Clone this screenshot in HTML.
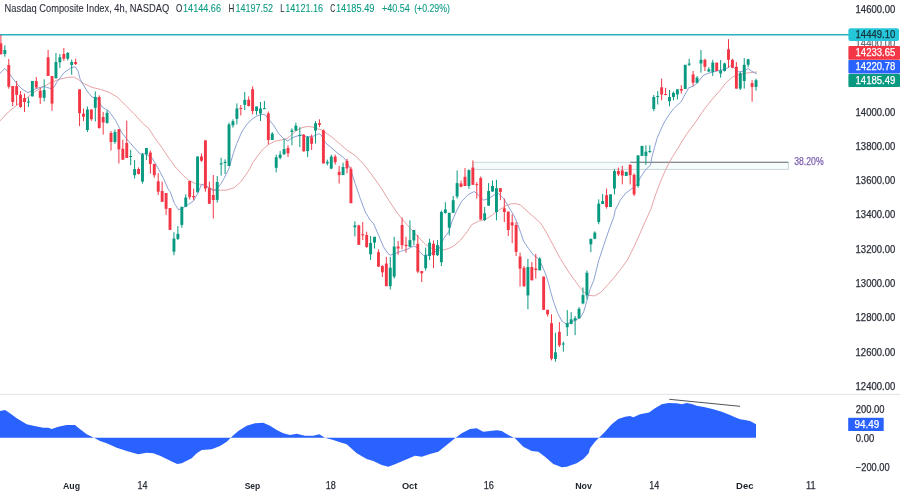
<!DOCTYPE html>
<html><head><meta charset="utf-8"><title>Nasdaq Composite Index chart</title>
<style>
html,body{margin:0;padding:0;background:#ffffff;}
body{width:900px;height:496px;overflow:hidden;position:relative;font-family:"Liberation Sans",sans-serif;}
svg text{font-family:"Liberation Sans",sans-serif;}
svg{will-change:transform;}
</style></head><body>
<svg width="900" height="496" viewBox="0 0 900 496" style="position:absolute;left:0;top:0">
<rect x="473.3" y="162.3" width="315.1" height="7.1" fill="#f6fbfc" stroke="#c3d3d6" stroke-width="0.9"/>
<line x1="630.3" y1="162.2" x2="788.4" y2="162.2" stroke="#6d7079" stroke-width="1.1"/>
<line x1="0" y1="34.8" x2="849" y2="34.8" stroke="#29b0c1" stroke-width="1.4"/>
<line x1="0" y1="394.4" x2="900" y2="394.4" stroke="#e0e3eb" stroke-width="1"/>
<polyline points="0.0,120.9 8.4,112.0 16.7,105.3 25.0,99.4 33.5,92.5 41.9,87.5 50.0,83.0 58.6,79.5 67.0,77.5 73.7,77.0 78.7,79.7 83.7,83.5 92.0,87.4 100.5,89.4 108.8,92.2 117.2,97.0 125.6,105.3 134.0,113.7 142.3,122.9 148.6,128.4 155.2,138.4 161.9,147.6 168.6,157.7 175.3,166.9 182.0,174.4 188.7,180.3 195.4,183.6 202.1,184.5 207.1,187.0 213.8,189.5 220.5,190.3 227.2,190.0 233.9,187.8 240.6,182.0 245.6,175.2 250.0,168.6 252.6,163.0 256.8,157.0 261.9,150.3 268.6,144.5 275.2,141.1 281.9,139.9 287.0,138.6 292.0,134.4 297.0,130.2 302.0,127.7 307.1,126.5 312.1,126.9 317.1,128.6 322.1,130.2 327.1,133.6 333.8,138.6 340.5,144.5 347.2,150.3 355.2,155.5 363.6,164.2 372.0,175.1 380.4,186.8 388.7,200.2 397.1,212.8 403.8,221.2 410.5,228.5 418.7,237.6 425.4,244.3 432.1,248.5 438.8,250.2 443.8,249.8 448.8,248.5 453.8,246.0 460.5,240.1 467.2,231.7 471.9,224.5 478.6,221.2 485.2,219.5 491.9,215.3 498.6,210.3 505.3,206.1 510.4,203.9 515.4,203.6 520.4,204.9 527.1,211.1 533.8,217.0 540.5,222.8 546.9,233.4 553.6,246.0 560.3,258.6 568.7,272.0 577.1,283.7 583.7,292.0 588.7,295.4 594.6,295.9 600.5,292.6 607.2,285.5 613.9,277.8 620.6,269.4 627.3,260.2 634.0,246.8 640.0,233.4 644.5,223.0 650.4,210.3 655.4,195.2 660.4,181.9 665.4,170.1 670.5,160.1 677.2,149.5 683.8,138.5 686.7,134.0 695.6,122.0 704.4,109.1 713.3,98.0 720.4,90.0 725.5,83.3 731.8,77.4 736.4,75.2 745.8,73.2 752.0,72.4 756.9,72.0" fill="none" stroke="#e3989b" stroke-width="0.9" stroke-linejoin="round"/>
<polyline points="0.0,73.3 5.0,68.4 10.0,74.7 16.7,83.5 22.0,89.0 28.0,92.7 36.0,88.6 43.5,86.5 46.7,87.3 52.0,89.0 54.0,87.0 57.5,81.2 64.0,72.7 70.7,68.0 75.3,66.7 78.0,71.0 80.2,79.3 87.0,91.0 92.0,97.0 97.0,98.0 102.0,107.0 108.8,111.0 115.5,120.4 122.0,133.0 127.6,140.0 133.5,146.8 140.2,154.0 145.2,153.8 151.9,157.7 157.8,167.7 163.6,178.6 168.6,190.0 170.2,191.7 174.4,203.4 178.6,209.8 183.6,207.6 188.6,204.3 193.6,200.9 198.6,191.7 201.2,185.0 203.7,184.2 208.7,187.5 213.7,190.9 217.0,189.0 221.2,183.3 223.9,178.6 228.9,168.6 233.6,152.5 236.7,143.6 241.8,131.9 246.8,124.4 251.8,119.3 256.8,116.0 261.9,114.3 265.2,114.8 268.6,119.3 273.6,125.2 278.6,133.6 283.6,138.6 287.8,141.1 292.0,137.8 297.0,136.1 302.0,134.9 307.1,136.9 313.8,136.1 318.8,133.6 321.3,135.2 325.5,142.8 330.5,147.0 337.2,152.8 343.9,157.9 346.0,160.4 350.2,168.4 355.2,183.5 360.3,198.6 365.3,212.0 370.3,220.3 373.5,223.4 378.5,235.1 383.5,246.8 387.7,253.2 390.2,255.2 395.2,253.5 400.3,251.5 407.0,249.3 413.7,246.0 417.0,247.6 420.4,252.7 423.7,255.5 428.7,254.8 433.8,252.7 438.8,249.3 443.8,238.4 448.8,231.7 451.8,222.0 456.8,210.3 461.8,201.1 468.5,194.4 474.4,191.5 478.6,195.2 483.6,200.2 488.6,198.6 493.6,195.2 498.6,193.5 503.7,198.6 508.7,206.9 513.7,215.3 516.8,221.7 521.0,233.4 523.5,241.0 528.5,248.5 533.5,255.2 538.6,258.9 541.9,265.2 546.1,275.3 548.6,283.7 550.2,290.0 553.6,301.8 557.8,313.5 561.9,321.0 566.1,323.9 570.3,322.7 575.3,320.2 580.4,317.7 583.7,311.8 587.1,300.1 590.4,288.4 593.8,280.3 598.8,260.2 603.8,245.2 608.9,230.1 613.9,216.7 615.2,210.3 620.2,200.3 625.2,193.6 631.9,188.6 637.0,184.4 640.3,177.7 645.3,170.1 650.4,165.1 652.0,156.7 654.5,147.5 657.0,138.6 660.0,131.3 664.4,122.0 668.9,114.9 673.3,109.1 677.8,104.7 681.3,101.6 684.0,96.2 687.6,90.0 688.6,87.8 693.6,86.1 698.6,81.1 703.6,75.2 708.6,73.2 713.7,71.9 720.4,70.2 725.4,69.3 730.4,66.0 733.8,67.7 738.8,71.9 743.8,71.0 748.0,68.5 751.3,71.0 756.9,74.0" fill="none" stroke="#8096cf" stroke-width="0.9" stroke-linejoin="round"/>
<line x1="0.90" y1="35.0" x2="0.90" y2="54.3" stroke="#f23645" stroke-width="1"/>
<rect x="-0.55" y="43.3" width="2.9" height="11.0" fill="#f23645"/>
<line x1="4.83" y1="45.3" x2="4.83" y2="56.7" stroke="#089981" stroke-width="1"/>
<rect x="3.38" y="50.0" width="2.9" height="4.0" fill="#089981"/>
<line x1="8.77" y1="59.0" x2="8.77" y2="88.7" stroke="#f23645" stroke-width="1"/>
<rect x="7.32" y="65.0" width="2.9" height="21.7" fill="#f23645"/>
<line x1="12.70" y1="86.0" x2="12.70" y2="106.0" stroke="#f23645" stroke-width="1"/>
<rect x="11.25" y="86.0" width="2.9" height="16.0" fill="#f23645"/>
<line x1="16.63" y1="81.0" x2="16.63" y2="105.3" stroke="#f23645" stroke-width="1"/>
<rect x="15.18" y="86.0" width="2.9" height="8.8" fill="#f23645"/>
<line x1="20.56" y1="91.0" x2="20.56" y2="107.8" stroke="#f23645" stroke-width="1"/>
<rect x="19.11" y="94.8" width="2.9" height="12.2" fill="#f23645"/>
<line x1="24.50" y1="93.6" x2="24.50" y2="112.0" stroke="#f23645" stroke-width="1"/>
<rect x="23.05" y="98.0" width="2.9" height="4.0" fill="#f23645"/>
<line x1="28.43" y1="97.4" x2="28.43" y2="107.0" stroke="#089981" stroke-width="1"/>
<rect x="26.98" y="101.5" width="2.9" height="1.0" fill="#089981"/>
<line x1="32.36" y1="81.0" x2="32.36" y2="96.4" stroke="#089981" stroke-width="1"/>
<rect x="30.91" y="81.0" width="2.9" height="15.4" fill="#089981"/>
<line x1="36.30" y1="77.0" x2="36.30" y2="88.6" stroke="#f23645" stroke-width="1"/>
<rect x="34.85" y="81.0" width="2.9" height="6.4" fill="#f23645"/>
<line x1="40.23" y1="87.7" x2="40.23" y2="104.0" stroke="#f23645" stroke-width="1"/>
<rect x="38.78" y="90.7" width="2.9" height="7.1" fill="#f23645"/>
<line x1="44.16" y1="79.3" x2="44.16" y2="101.4" stroke="#089981" stroke-width="1"/>
<rect x="42.71" y="90.0" width="2.9" height="7.8" fill="#089981"/>
<line x1="48.10" y1="50.0" x2="48.10" y2="76.0" stroke="#f23645" stroke-width="1"/>
<rect x="46.65" y="57.3" width="2.9" height="18.7" fill="#f23645"/>
<line x1="52.03" y1="76.0" x2="52.03" y2="110.8" stroke="#f23645" stroke-width="1"/>
<rect x="50.58" y="76.0" width="2.9" height="27.6" fill="#f23645"/>
<line x1="55.96" y1="53.0" x2="55.96" y2="78.3" stroke="#089981" stroke-width="1"/>
<rect x="54.51" y="62.0" width="2.9" height="16.3" fill="#089981"/>
<line x1="59.89" y1="54.0" x2="59.89" y2="68.0" stroke="#089981" stroke-width="1"/>
<rect x="58.44" y="57.3" width="2.9" height="5.0" fill="#089981"/>
<line x1="63.83" y1="48.0" x2="63.83" y2="61.0" stroke="#f23645" stroke-width="1"/>
<rect x="62.38" y="54.0" width="2.9" height="4.7" fill="#f23645"/>
<line x1="67.76" y1="52.0" x2="67.76" y2="60.4" stroke="#089981" stroke-width="1"/>
<rect x="66.31" y="53.0" width="2.9" height="5.7" fill="#089981"/>
<line x1="71.69" y1="59.6" x2="71.69" y2="74.7" stroke="#089981" stroke-width="1"/>
<rect x="70.24" y="62.0" width="2.9" height="3.0" fill="#089981"/>
<line x1="75.63" y1="58.7" x2="75.63" y2="65.0" stroke="#f23645" stroke-width="1"/>
<rect x="74.18" y="62.0" width="2.9" height="2.0" fill="#f23645"/>
<line x1="79.56" y1="89.4" x2="79.56" y2="126.2" stroke="#f23645" stroke-width="1"/>
<rect x="78.11" y="89.4" width="2.9" height="23.8" fill="#f23645"/>
<line x1="83.49" y1="108.6" x2="83.49" y2="121.2" stroke="#f23645" stroke-width="1"/>
<rect x="82.04" y="113.7" width="2.9" height="3.0" fill="#f23645"/>
<line x1="87.43" y1="106.5" x2="87.43" y2="132.0" stroke="#089981" stroke-width="1"/>
<rect x="85.98" y="109.5" width="2.9" height="20.5" fill="#089981"/>
<line x1="91.36" y1="109.5" x2="91.36" y2="120.9" stroke="#f23645" stroke-width="1"/>
<rect x="89.91" y="109.5" width="2.9" height="9.7" fill="#f23645"/>
<line x1="95.29" y1="91.4" x2="95.29" y2="121.5" stroke="#089981" stroke-width="1"/>
<rect x="93.84" y="97.0" width="2.9" height="10.8" fill="#089981"/>
<line x1="99.22" y1="95.3" x2="99.22" y2="128.7" stroke="#f23645" stroke-width="1"/>
<rect x="97.77" y="97.0" width="2.9" height="31.0" fill="#f23645"/>
<line x1="103.16" y1="112.0" x2="103.16" y2="134.6" stroke="#f23645" stroke-width="1"/>
<rect x="101.71" y="117.0" width="2.9" height="5.5" fill="#f23645"/>
<line x1="107.09" y1="110.3" x2="107.09" y2="123.7" stroke="#089981" stroke-width="1"/>
<rect x="105.64" y="112.8" width="2.9" height="10.1" fill="#089981"/>
<line x1="111.02" y1="131.0" x2="111.02" y2="150.5" stroke="#f23645" stroke-width="1"/>
<rect x="109.57" y="133.0" width="2.9" height="9.0" fill="#f23645"/>
<line x1="114.96" y1="129.5" x2="114.96" y2="143.8" stroke="#089981" stroke-width="1"/>
<rect x="113.51" y="132.0" width="2.9" height="10.0" fill="#089981"/>
<line x1="118.89" y1="129.2" x2="118.89" y2="163.5" stroke="#f23645" stroke-width="1"/>
<rect x="117.44" y="129.2" width="2.9" height="20.1" fill="#f23645"/>
<line x1="122.82" y1="139.8" x2="122.82" y2="159.7" stroke="#f23645" stroke-width="1"/>
<rect x="121.37" y="148.8" width="2.9" height="10.9" fill="#f23645"/>
<line x1="126.76" y1="120.6" x2="126.76" y2="158.0" stroke="#f23645" stroke-width="1"/>
<rect x="125.31" y="143.0" width="2.9" height="15.0" fill="#f23645"/>
<line x1="130.69" y1="149.8" x2="130.69" y2="165.2" stroke="#089981" stroke-width="1"/>
<rect x="129.24" y="156.0" width="2.9" height="1.0" fill="#089981"/>
<line x1="134.62" y1="160.0" x2="134.62" y2="178.6" stroke="#089981" stroke-width="1"/>
<rect x="133.17" y="169.0" width="2.9" height="6.2" fill="#089981"/>
<line x1="138.56" y1="167.4" x2="138.56" y2="174.4" stroke="#f23645" stroke-width="1"/>
<rect x="137.11" y="169.0" width="2.9" height="5.0" fill="#f23645"/>
<line x1="142.49" y1="153.0" x2="142.49" y2="183.6" stroke="#089981" stroke-width="1"/>
<rect x="141.04" y="154.3" width="2.9" height="27.3" fill="#089981"/>
<line x1="146.42" y1="148.0" x2="146.42" y2="160.0" stroke="#089981" stroke-width="1"/>
<rect x="144.97" y="148.0" width="2.9" height="6.3" fill="#089981"/>
<line x1="150.35" y1="150.5" x2="150.35" y2="173.6" stroke="#f23645" stroke-width="1"/>
<rect x="148.90" y="152.6" width="2.9" height="11.3" fill="#f23645"/>
<line x1="154.29" y1="163.9" x2="154.29" y2="177.8" stroke="#f23645" stroke-width="1"/>
<rect x="152.84" y="163.9" width="2.9" height="11.3" fill="#f23645"/>
<line x1="158.22" y1="173.2" x2="158.22" y2="195.0" stroke="#f23645" stroke-width="1"/>
<rect x="156.77" y="181.3" width="2.9" height="10.4" fill="#f23645"/>
<line x1="162.15" y1="181.6" x2="162.15" y2="201.8" stroke="#f23645" stroke-width="1"/>
<rect x="160.70" y="191.0" width="2.9" height="10.8" fill="#f23645"/>
<line x1="166.09" y1="193.0" x2="166.09" y2="214.8" stroke="#f23645" stroke-width="1"/>
<rect x="164.64" y="193.0" width="2.9" height="15.8" fill="#f23645"/>
<line x1="170.02" y1="208.1" x2="170.02" y2="229.9" stroke="#f23645" stroke-width="1"/>
<rect x="168.57" y="208.1" width="2.9" height="21.8" fill="#f23645"/>
<line x1="173.95" y1="232.2" x2="173.95" y2="255.3" stroke="#089981" stroke-width="1"/>
<rect x="172.50" y="238.6" width="2.9" height="13.1" fill="#089981"/>
<line x1="177.88" y1="226.0" x2="177.88" y2="240.0" stroke="#089981" stroke-width="1"/>
<rect x="176.44" y="233.9" width="2.9" height="5.0" fill="#089981"/>
<line x1="181.82" y1="206.8" x2="181.82" y2="227.7" stroke="#089981" stroke-width="1"/>
<rect x="180.37" y="206.8" width="2.9" height="18.1" fill="#089981"/>
<line x1="185.75" y1="194.3" x2="185.75" y2="206.8" stroke="#089981" stroke-width="1"/>
<rect x="184.30" y="197.5" width="2.9" height="9.3" fill="#089981"/>
<line x1="189.68" y1="181.0" x2="189.68" y2="199.4" stroke="#f23645" stroke-width="1"/>
<rect x="188.23" y="181.0" width="2.9" height="16.2" fill="#f23645"/>
<line x1="193.62" y1="188.6" x2="193.62" y2="200.2" stroke="#f23645" stroke-width="1"/>
<rect x="192.17" y="196.0" width="2.9" height="1.3" fill="#f23645"/>
<line x1="197.55" y1="156.5" x2="197.55" y2="192.3" stroke="#089981" stroke-width="1"/>
<rect x="196.10" y="156.5" width="2.9" height="35.8" fill="#089981"/>
<line x1="201.48" y1="153.5" x2="201.48" y2="161.9" stroke="#f23645" stroke-width="1"/>
<rect x="200.03" y="156.5" width="2.9" height="4.2" fill="#f23645"/>
<line x1="205.42" y1="140.4" x2="205.42" y2="191.7" stroke="#f23645" stroke-width="1"/>
<rect x="203.97" y="140.4" width="2.9" height="48.1" fill="#f23645"/>
<line x1="209.35" y1="181.6" x2="209.35" y2="203.8" stroke="#f23645" stroke-width="1"/>
<rect x="207.90" y="188.2" width="2.9" height="15.6" fill="#f23645"/>
<line x1="213.28" y1="175.0" x2="213.28" y2="218.5" stroke="#f23645" stroke-width="1"/>
<rect x="211.83" y="195.0" width="2.9" height="5.0" fill="#f23645"/>
<line x1="217.22" y1="176.0" x2="217.22" y2="202.6" stroke="#089981" stroke-width="1"/>
<rect x="215.77" y="182.0" width="2.9" height="17.9" fill="#089981"/>
<line x1="221.15" y1="157.7" x2="221.15" y2="175.6" stroke="#089981" stroke-width="1"/>
<rect x="219.70" y="163.2" width="2.9" height="1.2" fill="#089981"/>
<line x1="225.08" y1="159.3" x2="225.08" y2="174.0" stroke="#089981" stroke-width="1"/>
<rect x="223.63" y="161.8" width="2.9" height="1.2" fill="#089981"/>
<line x1="229.01" y1="122.6" x2="229.01" y2="166.0" stroke="#089981" stroke-width="1"/>
<rect x="227.56" y="124.5" width="2.9" height="41.5" fill="#089981"/>
<line x1="232.95" y1="119.3" x2="232.95" y2="127.6" stroke="#089981" stroke-width="1"/>
<rect x="231.50" y="121.2" width="2.9" height="4.1" fill="#089981"/>
<line x1="236.88" y1="103.4" x2="236.88" y2="124.4" stroke="#089981" stroke-width="1"/>
<rect x="235.43" y="108.5" width="2.9" height="10.3" fill="#089981"/>
<line x1="240.81" y1="105.0" x2="240.81" y2="115.5" stroke="#f23645" stroke-width="1"/>
<rect x="239.36" y="108.0" width="2.9" height="1.0" fill="#f23645"/>
<line x1="244.75" y1="92.0" x2="244.75" y2="110.0" stroke="#089981" stroke-width="1"/>
<rect x="243.30" y="99.8" width="2.9" height="5.0" fill="#089981"/>
<line x1="248.68" y1="96.4" x2="248.68" y2="106.5" stroke="#f23645" stroke-width="1"/>
<rect x="247.23" y="99.8" width="2.9" height="6.2" fill="#f23645"/>
<line x1="252.61" y1="86.4" x2="252.61" y2="114.3" stroke="#f23645" stroke-width="1"/>
<rect x="251.16" y="89.2" width="2.9" height="21.8" fill="#f23645"/>
<line x1="256.54" y1="106.5" x2="256.54" y2="114.8" stroke="#089981" stroke-width="1"/>
<rect x="255.09" y="106.5" width="2.9" height="4.5" fill="#089981"/>
<line x1="260.48" y1="102.0" x2="260.48" y2="121.0" stroke="#089981" stroke-width="1"/>
<rect x="259.03" y="108.5" width="2.9" height="5.0" fill="#089981"/>
<line x1="264.41" y1="101.0" x2="264.41" y2="108.8" stroke="#089981" stroke-width="1"/>
<rect x="262.96" y="108.2" width="2.9" height="1.0" fill="#089981"/>
<line x1="268.34" y1="111.5" x2="268.34" y2="144.5" stroke="#f23645" stroke-width="1"/>
<rect x="266.89" y="113.5" width="2.9" height="26.5" fill="#f23645"/>
<line x1="272.28" y1="132.2" x2="272.28" y2="140.0" stroke="#089981" stroke-width="1"/>
<rect x="270.83" y="133.6" width="2.9" height="6.4" fill="#089981"/>
<line x1="276.21" y1="154.7" x2="276.21" y2="172.4" stroke="#089981" stroke-width="1"/>
<rect x="274.76" y="157.3" width="2.9" height="10.5" fill="#089981"/>
<line x1="280.14" y1="151.1" x2="280.14" y2="159.3" stroke="#089981" stroke-width="1"/>
<rect x="278.69" y="154.6" width="2.9" height="3.3" fill="#089981"/>
<line x1="284.08" y1="138.8" x2="284.08" y2="154.8" stroke="#089981" stroke-width="1"/>
<rect x="282.63" y="149.0" width="2.9" height="5.3" fill="#089981"/>
<line x1="288.01" y1="145.2" x2="288.01" y2="157.0" stroke="#f23645" stroke-width="1"/>
<rect x="286.56" y="148.0" width="2.9" height="5.3" fill="#f23645"/>
<line x1="291.94" y1="128.3" x2="291.94" y2="145.3" stroke="#089981" stroke-width="1"/>
<rect x="290.49" y="130.4" width="2.9" height="1.6" fill="#089981"/>
<line x1="295.87" y1="122.7" x2="295.87" y2="131.0" stroke="#089981" stroke-width="1"/>
<rect x="294.42" y="125.7" width="2.9" height="4.9" fill="#089981"/>
<line x1="299.81" y1="127.1" x2="299.81" y2="147.1" stroke="#089981" stroke-width="1"/>
<rect x="298.36" y="135.0" width="2.9" height="1.0" fill="#089981"/>
<line x1="303.74" y1="134.0" x2="303.74" y2="151.7" stroke="#f23645" stroke-width="1"/>
<rect x="302.29" y="134.8" width="2.9" height="16.5" fill="#f23645"/>
<line x1="307.67" y1="136.0" x2="307.67" y2="157.2" stroke="#089981" stroke-width="1"/>
<rect x="306.22" y="137.0" width="2.9" height="14.1" fill="#089981"/>
<line x1="311.61" y1="134.5" x2="311.61" y2="149.9" stroke="#f23645" stroke-width="1"/>
<rect x="310.16" y="137.2" width="2.9" height="6.6" fill="#f23645"/>
<line x1="315.54" y1="121.0" x2="315.54" y2="143.6" stroke="#089981" stroke-width="1"/>
<rect x="314.09" y="123.2" width="2.9" height="7.4" fill="#089981"/>
<line x1="319.47" y1="119.3" x2="319.47" y2="127.2" stroke="#f23645" stroke-width="1"/>
<rect x="318.02" y="123.2" width="2.9" height="1.7" fill="#f23645"/>
<line x1="323.41" y1="129.4" x2="323.41" y2="163.4" stroke="#f23645" stroke-width="1"/>
<rect x="321.96" y="130.3" width="2.9" height="33.1" fill="#f23645"/>
<line x1="327.34" y1="159.6" x2="327.34" y2="165.4" stroke="#089981" stroke-width="1"/>
<rect x="325.89" y="161.9" width="2.9" height="1.5" fill="#089981"/>
<line x1="331.27" y1="154.7" x2="331.27" y2="169.1" stroke="#089981" stroke-width="1"/>
<rect x="329.82" y="156.6" width="2.9" height="12.0" fill="#089981"/>
<line x1="335.20" y1="154.7" x2="335.20" y2="164.5" stroke="#f23645" stroke-width="1"/>
<rect x="333.75" y="156.6" width="2.9" height="5.6" fill="#f23645"/>
<line x1="339.14" y1="166.0" x2="339.14" y2="183.5" stroke="#f23645" stroke-width="1"/>
<rect x="337.69" y="171.8" width="2.9" height="3.3" fill="#f23645"/>
<line x1="343.07" y1="162.7" x2="343.07" y2="175.1" stroke="#089981" stroke-width="1"/>
<rect x="341.62" y="167.0" width="2.9" height="8.1" fill="#089981"/>
<line x1="347.00" y1="158.7" x2="347.00" y2="173.4" stroke="#f23645" stroke-width="1"/>
<rect x="345.55" y="160.9" width="2.9" height="7.5" fill="#f23645"/>
<line x1="350.94" y1="166.7" x2="350.94" y2="203.2" stroke="#f23645" stroke-width="1"/>
<rect x="349.49" y="168.8" width="2.9" height="34.4" fill="#f23645"/>
<line x1="354.87" y1="221.3" x2="354.87" y2="236.4" stroke="#089981" stroke-width="1"/>
<rect x="353.42" y="225.5" width="2.9" height="1.7" fill="#089981"/>
<line x1="358.80" y1="224.7" x2="358.80" y2="245.0" stroke="#f23645" stroke-width="1"/>
<rect x="357.35" y="225.4" width="2.9" height="19.4" fill="#f23645"/>
<line x1="362.74" y1="222.0" x2="362.74" y2="240.0" stroke="#f23645" stroke-width="1"/>
<rect x="361.29" y="234.3" width="2.9" height="1.1" fill="#f23645"/>
<line x1="366.67" y1="231.7" x2="366.67" y2="248.0" stroke="#f23645" stroke-width="1"/>
<rect x="365.22" y="235.0" width="2.9" height="12.0" fill="#f23645"/>
<line x1="370.60" y1="236.0" x2="370.60" y2="260.0" stroke="#089981" stroke-width="1"/>
<rect x="369.15" y="243.0" width="2.9" height="11.3" fill="#089981"/>
<line x1="374.53" y1="236.8" x2="374.53" y2="248.5" stroke="#089981" stroke-width="1"/>
<rect x="373.08" y="236.8" width="2.9" height="5.8" fill="#089981"/>
<line x1="378.47" y1="249.3" x2="378.47" y2="267.0" stroke="#f23645" stroke-width="1"/>
<rect x="377.02" y="252.2" width="2.9" height="14.4" fill="#f23645"/>
<line x1="382.40" y1="265.2" x2="382.40" y2="277.0" stroke="#f23645" stroke-width="1"/>
<rect x="380.95" y="266.0" width="2.9" height="6.3" fill="#f23645"/>
<line x1="386.33" y1="256.9" x2="386.33" y2="286.2" stroke="#f23645" stroke-width="1"/>
<rect x="384.88" y="263.6" width="2.9" height="22.6" fill="#f23645"/>
<line x1="390.27" y1="256.9" x2="390.27" y2="289.5" stroke="#089981" stroke-width="1"/>
<rect x="388.82" y="267.7" width="2.9" height="18.5" fill="#089981"/>
<line x1="394.20" y1="236.8" x2="394.20" y2="278.6" stroke="#089981" stroke-width="1"/>
<rect x="392.75" y="246.5" width="2.9" height="30.1" fill="#089981"/>
<line x1="398.13" y1="241.0" x2="398.13" y2="254.8" stroke="#f23645" stroke-width="1"/>
<rect x="396.68" y="246.5" width="2.9" height="2.0" fill="#f23645"/>
<line x1="402.07" y1="217.5" x2="402.07" y2="249.3" stroke="#f23645" stroke-width="1"/>
<rect x="400.62" y="225.0" width="2.9" height="20.1" fill="#f23645"/>
<line x1="406.00" y1="236.8" x2="406.00" y2="252.7" stroke="#f23645" stroke-width="1"/>
<rect x="404.55" y="244.8" width="2.9" height="1.2" fill="#f23645"/>
<line x1="409.93" y1="220.4" x2="409.93" y2="246.8" stroke="#089981" stroke-width="1"/>
<rect x="408.48" y="240.1" width="2.9" height="6.7" fill="#089981"/>
<line x1="413.86" y1="230.0" x2="413.86" y2="245.0" stroke="#089981" stroke-width="1"/>
<rect x="412.41" y="230.0" width="2.9" height="10.4" fill="#089981"/>
<line x1="417.80" y1="235.0" x2="417.80" y2="273.3" stroke="#f23645" stroke-width="1"/>
<rect x="416.35" y="243.8" width="2.9" height="27.8" fill="#f23645"/>
<line x1="421.73" y1="271.0" x2="421.73" y2="282.0" stroke="#f23645" stroke-width="1"/>
<rect x="420.28" y="271.0" width="2.9" height="2.3" fill="#f23645"/>
<line x1="425.66" y1="247.6" x2="425.66" y2="270.6" stroke="#089981" stroke-width="1"/>
<rect x="424.21" y="255.2" width="2.9" height="13.0" fill="#089981"/>
<line x1="429.60" y1="238.8" x2="429.60" y2="260.2" stroke="#089981" stroke-width="1"/>
<rect x="428.15" y="242.6" width="2.9" height="13.4" fill="#089981"/>
<line x1="433.53" y1="240.4" x2="433.53" y2="268.2" stroke="#f23645" stroke-width="1"/>
<rect x="432.08" y="243.8" width="2.9" height="11.4" fill="#f23645"/>
<line x1="437.46" y1="240.1" x2="437.46" y2="256.0" stroke="#089981" stroke-width="1"/>
<rect x="436.01" y="245.1" width="2.9" height="10.1" fill="#089981"/>
<line x1="441.40" y1="210.6" x2="441.40" y2="266.0" stroke="#089981" stroke-width="1"/>
<rect x="439.95" y="212.0" width="2.9" height="50.2" fill="#089981"/>
<line x1="445.33" y1="202.2" x2="445.33" y2="213.6" stroke="#089981" stroke-width="1"/>
<rect x="443.88" y="209.4" width="2.9" height="3.6" fill="#089981"/>
<line x1="449.26" y1="212.8" x2="449.26" y2="235.4" stroke="#089981" stroke-width="1"/>
<rect x="447.81" y="212.8" width="2.9" height="14.9" fill="#089981"/>
<line x1="453.19" y1="196.0" x2="453.19" y2="212.8" stroke="#089981" stroke-width="1"/>
<rect x="451.74" y="200.2" width="2.9" height="12.6" fill="#089981"/>
<line x1="457.13" y1="170.4" x2="457.13" y2="198.6" stroke="#089981" stroke-width="1"/>
<rect x="455.68" y="183.1" width="2.9" height="13.4" fill="#089981"/>
<line x1="461.06" y1="180.5" x2="461.06" y2="187.2" stroke="#f23645" stroke-width="1"/>
<rect x="459.61" y="183.5" width="2.9" height="3.3" fill="#f23645"/>
<line x1="464.99" y1="168.1" x2="464.99" y2="186.0" stroke="#f23645" stroke-width="1"/>
<rect x="463.54" y="176.8" width="2.9" height="9.2" fill="#f23645"/>
<line x1="468.93" y1="169.3" x2="468.93" y2="188.8" stroke="#089981" stroke-width="1"/>
<rect x="467.48" y="170.1" width="2.9" height="15.9" fill="#089981"/>
<line x1="472.86" y1="160.4" x2="472.86" y2="184.8" stroke="#f23645" stroke-width="1"/>
<rect x="471.41" y="167.6" width="2.9" height="17.2" fill="#f23645"/>
<line x1="476.79" y1="182.1" x2="476.79" y2="198.6" stroke="#f23645" stroke-width="1"/>
<rect x="475.34" y="184.2" width="2.9" height="1.0" fill="#f23645"/>
<line x1="480.73" y1="176.5" x2="480.73" y2="219.5" stroke="#f23645" stroke-width="1"/>
<rect x="479.28" y="178.1" width="2.9" height="41.4" fill="#f23645"/>
<line x1="484.66" y1="207.0" x2="484.66" y2="221.2" stroke="#089981" stroke-width="1"/>
<rect x="483.21" y="213.3" width="2.9" height="6.7" fill="#089981"/>
<line x1="488.59" y1="183.1" x2="488.59" y2="206.0" stroke="#089981" stroke-width="1"/>
<rect x="487.14" y="191.0" width="2.9" height="14.6" fill="#089981"/>
<line x1="492.52" y1="180.5" x2="492.52" y2="191.9" stroke="#089981" stroke-width="1"/>
<rect x="491.07" y="186.0" width="2.9" height="5.5" fill="#089981"/>
<line x1="496.46" y1="179.8" x2="496.46" y2="220.3" stroke="#089981" stroke-width="1"/>
<rect x="495.01" y="188.2" width="2.9" height="23.8" fill="#089981"/>
<line x1="500.39" y1="188.2" x2="500.39" y2="200.2" stroke="#f23645" stroke-width="1"/>
<rect x="498.94" y="188.2" width="2.9" height="3.7" fill="#f23645"/>
<line x1="504.32" y1="198.6" x2="504.32" y2="222.0" stroke="#f23645" stroke-width="1"/>
<rect x="502.87" y="208.3" width="2.9" height="3.7" fill="#f23645"/>
<line x1="508.26" y1="211.6" x2="508.26" y2="236.0" stroke="#f23645" stroke-width="1"/>
<rect x="506.81" y="211.6" width="2.9" height="18.4" fill="#f23645"/>
<line x1="512.19" y1="214.3" x2="512.19" y2="243.1" stroke="#f23645" stroke-width="1"/>
<rect x="510.74" y="222.4" width="2.9" height="3.0" fill="#f23645"/>
<line x1="516.12" y1="221.8" x2="516.12" y2="256.0" stroke="#f23645" stroke-width="1"/>
<rect x="514.67" y="225.0" width="2.9" height="26.9" fill="#f23645"/>
<line x1="520.06" y1="252.7" x2="520.06" y2="286.5" stroke="#f23645" stroke-width="1"/>
<rect x="518.61" y="256.5" width="2.9" height="12.1" fill="#f23645"/>
<line x1="523.99" y1="266.0" x2="523.99" y2="286.6" stroke="#f23645" stroke-width="1"/>
<rect x="522.54" y="267.8" width="2.9" height="18.5" fill="#f23645"/>
<line x1="527.92" y1="258.9" x2="527.92" y2="309.3" stroke="#089981" stroke-width="1"/>
<rect x="526.47" y="267.0" width="2.9" height="28.4" fill="#089981"/>
<line x1="531.85" y1="262.0" x2="531.85" y2="280.3" stroke="#f23645" stroke-width="1"/>
<rect x="530.40" y="267.0" width="2.9" height="13.3" fill="#f23645"/>
<line x1="535.79" y1="253.9" x2="535.79" y2="278.6" stroke="#f23645" stroke-width="1"/>
<rect x="534.34" y="268.6" width="2.9" height="1.4" fill="#f23645"/>
<line x1="539.72" y1="257.2" x2="539.72" y2="270.3" stroke="#089981" stroke-width="1"/>
<rect x="538.27" y="258.6" width="2.9" height="11.7" fill="#089981"/>
<line x1="543.65" y1="276.6" x2="543.65" y2="309.8" stroke="#f23645" stroke-width="1"/>
<rect x="542.20" y="276.6" width="2.9" height="33.2" fill="#f23645"/>
<line x1="547.59" y1="309.8" x2="547.59" y2="316.5" stroke="#f23645" stroke-width="1"/>
<rect x="546.14" y="309.8" width="2.9" height="4.5" fill="#f23645"/>
<line x1="551.52" y1="314.3" x2="551.52" y2="360.4" stroke="#f23645" stroke-width="1"/>
<rect x="550.07" y="323.2" width="2.9" height="35.5" fill="#f23645"/>
<line x1="555.45" y1="332.7" x2="555.45" y2="361.7" stroke="#089981" stroke-width="1"/>
<rect x="554.00" y="352.3" width="2.9" height="6.7" fill="#089981"/>
<line x1="559.39" y1="322.2" x2="559.39" y2="347.0" stroke="#f23645" stroke-width="1"/>
<rect x="557.94" y="331.9" width="2.9" height="13.4" fill="#f23645"/>
<line x1="563.32" y1="341.6" x2="563.32" y2="351.7" stroke="#089981" stroke-width="1"/>
<rect x="561.87" y="343.5" width="2.9" height="1.0" fill="#089981"/>
<line x1="567.25" y1="310.1" x2="567.25" y2="336.1" stroke="#089981" stroke-width="1"/>
<rect x="565.80" y="323.2" width="2.9" height="4.0" fill="#089981"/>
<line x1="571.18" y1="312.1" x2="571.18" y2="324.4" stroke="#089981" stroke-width="1"/>
<rect x="569.73" y="319.3" width="2.9" height="4.6" fill="#089981"/>
<line x1="575.12" y1="316.0" x2="575.12" y2="335.2" stroke="#089981" stroke-width="1"/>
<rect x="573.67" y="318.2" width="2.9" height="2.3" fill="#089981"/>
<line x1="579.05" y1="307.1" x2="579.05" y2="318.8" stroke="#089981" stroke-width="1"/>
<rect x="577.60" y="308.8" width="2.9" height="9.4" fill="#089981"/>
<line x1="582.98" y1="287.5" x2="582.98" y2="304.3" stroke="#089981" stroke-width="1"/>
<rect x="581.53" y="295.1" width="2.9" height="8.3" fill="#089981"/>
<line x1="586.92" y1="270.6" x2="586.92" y2="299.3" stroke="#089981" stroke-width="1"/>
<rect x="585.47" y="272.8" width="2.9" height="22.6" fill="#089981"/>
<line x1="590.85" y1="238.8" x2="590.85" y2="252.2" stroke="#089981" stroke-width="1"/>
<rect x="589.40" y="238.8" width="2.9" height="5.5" fill="#089981"/>
<line x1="594.78" y1="231.4" x2="594.78" y2="239.3" stroke="#089981" stroke-width="1"/>
<rect x="593.33" y="232.6" width="2.9" height="6.2" fill="#089981"/>
<line x1="598.72" y1="199.4" x2="598.72" y2="224.2" stroke="#089981" stroke-width="1"/>
<rect x="597.27" y="203.6" width="2.9" height="18.4" fill="#089981"/>
<line x1="602.65" y1="193.9" x2="602.65" y2="204.0" stroke="#089981" stroke-width="1"/>
<rect x="601.20" y="201.1" width="2.9" height="2.9" fill="#089981"/>
<line x1="606.58" y1="188.6" x2="606.58" y2="208.6" stroke="#f23645" stroke-width="1"/>
<rect x="605.13" y="195.2" width="2.9" height="11.8" fill="#f23645"/>
<line x1="610.51" y1="194.4" x2="610.51" y2="207.0" stroke="#089981" stroke-width="1"/>
<rect x="609.06" y="194.4" width="2.9" height="12.6" fill="#089981"/>
<line x1="614.45" y1="169.3" x2="614.45" y2="194.4" stroke="#089981" stroke-width="1"/>
<rect x="613.00" y="171.0" width="2.9" height="17.6" fill="#089981"/>
<line x1="618.38" y1="167.6" x2="618.38" y2="176.0" stroke="#f23645" stroke-width="1"/>
<rect x="616.93" y="171.0" width="2.9" height="3.3" fill="#f23645"/>
<line x1="622.31" y1="166.0" x2="622.31" y2="184.4" stroke="#f23645" stroke-width="1"/>
<rect x="620.86" y="170.5" width="2.9" height="5.0" fill="#f23645"/>
<line x1="626.25" y1="171.8" x2="626.25" y2="176.0" stroke="#089981" stroke-width="1"/>
<rect x="624.80" y="171.8" width="2.9" height="4.2" fill="#089981"/>
<line x1="630.18" y1="164.3" x2="630.18" y2="184.4" stroke="#f23645" stroke-width="1"/>
<rect x="628.73" y="164.8" width="2.9" height="10.4" fill="#f23645"/>
<line x1="634.11" y1="173.5" x2="634.11" y2="196.0" stroke="#f23645" stroke-width="1"/>
<rect x="632.66" y="174.8" width="2.9" height="19.6" fill="#f23645"/>
<line x1="638.05" y1="155.0" x2="638.05" y2="187.7" stroke="#089981" stroke-width="1"/>
<rect x="636.60" y="155.4" width="2.9" height="30.6" fill="#089981"/>
<line x1="641.98" y1="145.9" x2="641.98" y2="155.9" stroke="#089981" stroke-width="1"/>
<rect x="640.53" y="145.9" width="2.9" height="10.0" fill="#089981"/>
<line x1="645.91" y1="145.4" x2="645.91" y2="164.8" stroke="#089981" stroke-width="1"/>
<rect x="644.46" y="151.7" width="2.9" height="4.2" fill="#089981"/>
<line x1="649.84" y1="145.4" x2="649.84" y2="153.0" stroke="#089981" stroke-width="1"/>
<rect x="648.39" y="151.0" width="2.9" height="1.0" fill="#089981"/>
<line x1="653.78" y1="95.0" x2="653.78" y2="111.2" stroke="#089981" stroke-width="1"/>
<rect x="652.33" y="97.0" width="2.9" height="12.0" fill="#089981"/>
<line x1="657.71" y1="91.1" x2="657.71" y2="104.5" stroke="#089981" stroke-width="1"/>
<rect x="656.26" y="96.0" width="2.9" height="1.0" fill="#089981"/>
<line x1="661.64" y1="78.6" x2="661.64" y2="100.3" stroke="#f23645" stroke-width="1"/>
<rect x="660.19" y="87.3" width="2.9" height="7.2" fill="#f23645"/>
<line x1="665.58" y1="87.8" x2="665.58" y2="95.3" stroke="#f23645" stroke-width="1"/>
<rect x="664.13" y="94.0" width="2.9" height="1.0" fill="#f23645"/>
<line x1="669.51" y1="90.0" x2="669.51" y2="106.2" stroke="#089981" stroke-width="1"/>
<rect x="668.06" y="97.0" width="2.9" height="4.2" fill="#089981"/>
<line x1="673.44" y1="91.6" x2="673.44" y2="100.3" stroke="#089981" stroke-width="1"/>
<rect x="671.99" y="92.8" width="2.9" height="4.2" fill="#089981"/>
<line x1="677.38" y1="89.0" x2="677.38" y2="99.5" stroke="#089981" stroke-width="1"/>
<rect x="675.93" y="89.4" width="2.9" height="5.1" fill="#089981"/>
<line x1="681.31" y1="85.2" x2="681.31" y2="93.6" stroke="#f23645" stroke-width="1"/>
<rect x="679.86" y="89.0" width="2.9" height="1.6" fill="#f23645"/>
<line x1="685.24" y1="64.8" x2="685.24" y2="89.0" stroke="#089981" stroke-width="1"/>
<rect x="683.79" y="64.8" width="2.9" height="24.2" fill="#089981"/>
<line x1="689.17" y1="58.8" x2="689.17" y2="66.0" stroke="#089981" stroke-width="1"/>
<rect x="687.72" y="63.5" width="2.9" height="1.3" fill="#089981"/>
<line x1="693.11" y1="71.0" x2="693.11" y2="86.0" stroke="#f23645" stroke-width="1"/>
<rect x="691.66" y="74.4" width="2.9" height="8.3" fill="#f23645"/>
<line x1="697.04" y1="76.0" x2="697.04" y2="83.6" stroke="#089981" stroke-width="1"/>
<rect x="695.59" y="77.7" width="2.9" height="5.0" fill="#089981"/>
<line x1="700.97" y1="50.0" x2="700.97" y2="72.7" stroke="#089981" stroke-width="1"/>
<rect x="699.52" y="59.8" width="2.9" height="3.7" fill="#089981"/>
<line x1="704.91" y1="58.8" x2="704.91" y2="71.0" stroke="#f23645" stroke-width="1"/>
<rect x="703.46" y="59.8" width="2.9" height="7.0" fill="#f23645"/>
<line x1="708.84" y1="67.2" x2="708.84" y2="72.2" stroke="#089981" stroke-width="1"/>
<rect x="707.39" y="69.3" width="2.9" height="2.2" fill="#089981"/>
<line x1="712.77" y1="59.8" x2="712.77" y2="76.0" stroke="#089981" stroke-width="1"/>
<rect x="711.32" y="62.6" width="2.9" height="9.3" fill="#089981"/>
<line x1="716.71" y1="62.6" x2="716.71" y2="71.0" stroke="#f23645" stroke-width="1"/>
<rect x="715.26" y="62.6" width="2.9" height="8.4" fill="#f23645"/>
<line x1="720.64" y1="60.1" x2="720.64" y2="77.7" stroke="#089981" stroke-width="1"/>
<rect x="719.19" y="70.5" width="2.9" height="3.0" fill="#089981"/>
<line x1="724.57" y1="62.6" x2="724.57" y2="71.5" stroke="#089981" stroke-width="1"/>
<rect x="723.12" y="63.5" width="2.9" height="7.5" fill="#089981"/>
<line x1="728.50" y1="39.2" x2="728.50" y2="67.7" stroke="#f23645" stroke-width="1"/>
<rect x="727.05" y="49.3" width="2.9" height="10.5" fill="#f23645"/>
<line x1="732.44" y1="58.8" x2="732.44" y2="68.2" stroke="#f23645" stroke-width="1"/>
<rect x="730.99" y="59.8" width="2.9" height="7.9" fill="#f23645"/>
<line x1="736.37" y1="62.1" x2="736.37" y2="88.6" stroke="#f23645" stroke-width="1"/>
<rect x="734.92" y="66.8" width="2.9" height="21.8" fill="#f23645"/>
<line x1="740.30" y1="71.9" x2="740.30" y2="90.0" stroke="#089981" stroke-width="1"/>
<rect x="738.85" y="73.2" width="2.9" height="15.4" fill="#089981"/>
<line x1="744.24" y1="58.1" x2="744.24" y2="88.6" stroke="#089981" stroke-width="1"/>
<rect x="742.79" y="64.8" width="2.9" height="16.2" fill="#089981"/>
<line x1="748.17" y1="58.8" x2="748.17" y2="67.2" stroke="#089981" stroke-width="1"/>
<rect x="746.72" y="59.3" width="2.9" height="5.5" fill="#089981"/>
<line x1="752.10" y1="80.2" x2="752.10" y2="101.7" stroke="#f23645" stroke-width="1"/>
<rect x="750.65" y="83.2" width="2.9" height="3.7" fill="#f23645"/>
<line x1="756.04" y1="78.6" x2="756.04" y2="90.6" stroke="#089981" stroke-width="1"/>
<rect x="754.59" y="80.2" width="2.9" height="6.7" fill="#089981"/>
<polygon points="0.0,437.8 0.0,411.0 5.0,410.0 10.0,413.3 16.7,418.3 26.7,424.3 33.3,425.7 43.3,427.7 48.3,427.7 51.7,429.0 58.3,426.7 66.7,425.0 75.0,425.0 78.3,427.7 86.7,434.3 95.0,438.3 100.0,441.0 106.7,443.3 116.7,447.7 126.7,451.0 138.3,454.3 146.7,452.7 153.3,453.3 160.0,455.7 166.7,459.0 173.3,462.3 177.3,464.0 181.7,463.3 191.7,458.3 196.7,453.3 201.7,450.0 211.7,449.3 220.0,446.0 226.7,441.7 231.7,436.7 238.3,431.0 246.7,425.7 255.0,423.3 263.3,422.7 270.0,425.7 276.7,430.0 283.3,433.3 290.0,435.0 296.7,433.7 305.0,435.7 313.3,435.7 319.3,434.3 325.0,437.7 333.3,440.0 340.0,442.3 346.7,444.3 356.7,453.3 366.7,459.0 373.3,461.0 381.7,465.0 388.3,466.7 395.0,464.3 405.0,460.0 415.0,455.7 421.7,456.7 430.0,454.0 438.3,451.7 446.7,445.0 455.0,438.3 461.7,433.3 470.0,429.0 476.7,428.3 483.3,431.7 490.0,431.0 496.7,430.3 501.7,431.0 508.3,435.0 515.0,438.3 523.3,446.7 531.7,451.0 538.3,451.7 545.0,456.7 553.3,464.0 561.7,467.3 566.7,466.7 576.7,463.3 583.3,459.0 588.7,453.3 590.0,448.3 595.0,441.7 600.0,436.7 605.0,431.7 611.7,424.3 618.3,419.0 625.0,416.7 630.0,416.0 633.3,417.3 640.0,414.3 649.0,412.6 655.0,408.3 661.7,404.3 668.3,403.0 676.7,403.3 681.7,404.3 686.7,403.0 691.7,404.0 696.7,405.7 705.0,407.3 713.3,409.3 721.7,411.7 730.0,415.0 735.0,417.3 740.0,419.3 745.0,420.0 750.0,421.0 753.3,422.7 756.0,424.3 756.0,437.8" fill="#2962ff"/>
<line x1="669.3" y1="399.3" x2="740" y2="406.3" stroke="#3d4048" stroke-width="0.9"/>
<text x="895.2" y="12.799999999999999" font-size="10.2" fill="#2a2e39" stroke="#2a2e39" stroke-width="0.25" text-anchor="end" font-weight="normal" textLength="39.6" lengthAdjust="spacingAndGlyphs">14600.00</text>
<text x="895.2" y="115.6" font-size="10.2" fill="#2a2e39" stroke="#2a2e39" stroke-width="0.25" text-anchor="end" font-weight="normal" textLength="39.6" lengthAdjust="spacingAndGlyphs">14000.00</text>
<text x="895.2" y="149.9" font-size="10.2" fill="#2a2e39" stroke="#2a2e39" stroke-width="0.25" text-anchor="end" font-weight="normal" textLength="39.6" lengthAdjust="spacingAndGlyphs">13800.00</text>
<text x="895.2" y="184.2" font-size="10.2" fill="#2a2e39" stroke="#2a2e39" stroke-width="0.25" text-anchor="end" font-weight="normal" textLength="39.6" lengthAdjust="spacingAndGlyphs">13600.00</text>
<text x="895.2" y="218.4" font-size="10.2" fill="#2a2e39" stroke="#2a2e39" stroke-width="0.25" text-anchor="end" font-weight="normal" textLength="39.6" lengthAdjust="spacingAndGlyphs">13400.00</text>
<text x="895.2" y="252.7" font-size="10.2" fill="#2a2e39" stroke="#2a2e39" stroke-width="0.25" text-anchor="end" font-weight="normal" textLength="39.6" lengthAdjust="spacingAndGlyphs">13200.00</text>
<text x="895.2" y="287.0" font-size="10.2" fill="#2a2e39" stroke="#2a2e39" stroke-width="0.25" text-anchor="end" font-weight="normal" textLength="39.6" lengthAdjust="spacingAndGlyphs">13000.00</text>
<text x="895.2" y="321.20000000000005" font-size="10.2" fill="#2a2e39" stroke="#2a2e39" stroke-width="0.25" text-anchor="end" font-weight="normal" textLength="39.6" lengthAdjust="spacingAndGlyphs">12800.00</text>
<text x="895.2" y="355.5" font-size="10.2" fill="#2a2e39" stroke="#2a2e39" stroke-width="0.25" text-anchor="end" font-weight="normal" textLength="39.6" lengthAdjust="spacingAndGlyphs">12600.00</text>
<text x="895.2" y="389.8" font-size="10.2" fill="#2a2e39" stroke="#2a2e39" stroke-width="0.25" text-anchor="end" font-weight="normal" textLength="39.6" lengthAdjust="spacingAndGlyphs">12400.00</text>
<text x="895.2" y="47.0" font-size="10.2" fill="#6a6d78" stroke="#6a6d78" stroke-width="0.25" text-anchor="end" font-weight="normal" textLength="39.6" lengthAdjust="spacingAndGlyphs">14400.00</text>
<text x="855.8" y="413.1" font-size="10.2" fill="#2a2e39" stroke="#2a2e39" stroke-width="0.25" text-anchor="start" font-weight="normal" textLength="28.7" lengthAdjust="spacingAndGlyphs">200.00</text>
<text x="855.8" y="442.0" font-size="10.2" fill="#2a2e39" stroke="#2a2e39" stroke-width="0.25" text-anchor="start" font-weight="normal" textLength="18.5" lengthAdjust="spacingAndGlyphs">0.00</text>
<text x="855.8" y="470.6" font-size="10.2" fill="#2a2e39" stroke="#2a2e39" stroke-width="0.25" text-anchor="start" font-weight="normal" textLength="33.8" lengthAdjust="spacingAndGlyphs">−200.00</text>
<rect x="848.4" y="28.3" width="50.60000000000002" height="12.7" rx="2" fill="#26c6da"/><text x="895.2" y="38.25" font-size="10.2" fill="#14323a" stroke="#14323a" stroke-width="0.25" text-anchor="end" font-weight="normal" textLength="39.6" lengthAdjust="spacingAndGlyphs">14449.10</text>
<rect x="848.4" y="46" width="51.60000000000002" height="13.700000000000003" rx="1" fill="#f23645"/><text x="895.2" y="56.45" font-size="10.2" fill="#ffffff" stroke="#ffffff" stroke-width="0.25" text-anchor="end" font-weight="normal" textLength="39.6" lengthAdjust="spacingAndGlyphs">14233.65</text>
<rect x="848.4" y="60" width="51.60000000000002" height="13.400000000000006" rx="1" fill="#2962ff"/><text x="895.2" y="70.3" font-size="10.2" fill="#ffffff" stroke="#ffffff" stroke-width="0.25" text-anchor="end" font-weight="normal" textLength="39.6" lengthAdjust="spacingAndGlyphs">14220.78</text>
<rect x="848.4" y="74" width="51.60000000000002" height="13" rx="1" fill="#089981"/><text x="895.2" y="84.1" font-size="10.2" fill="#ffffff" stroke="#ffffff" stroke-width="0.25" text-anchor="end" font-weight="normal" textLength="39.6" lengthAdjust="spacingAndGlyphs">14185.49</text>
<rect x="848.2" y="417.8" width="35.5" height="13.2" fill="#2962ff"/>
<text x="854.6" y="428.0" font-size="10.2" fill="#ffffff" stroke="#ffffff" stroke-width="0.25" text-anchor="start" font-weight="normal" textLength="24.6" lengthAdjust="spacingAndGlyphs">94.49</text>
<text x="794.2" y="164.7" font-size="10" fill="#7b5fb0" stroke="#7b5fb0" stroke-width="0.25" text-anchor="start" font-weight="normal" textLength="29.4" lengthAdjust="spacingAndGlyphs">38.20%</text>
<text x="63.0" y="489.1" font-size="9.8" fill="#1e222d" text-anchor="start" font-weight="bold" textLength="17" lengthAdjust="spacingAndGlyphs">Aug</text>
<text x="137.6" y="489.1" font-size="10.4" fill="#2a2e39" stroke="#2a2e39" stroke-width="0.25" text-anchor="start" font-weight="normal" textLength="10" lengthAdjust="spacingAndGlyphs">14</text>
<text x="244.7" y="489.1" font-size="9.8" fill="#1e222d" text-anchor="start" font-weight="bold" textLength="15.6" lengthAdjust="spacingAndGlyphs">Sep</text>
<text x="325.8" y="489.1" font-size="10.4" fill="#2a2e39" stroke="#2a2e39" stroke-width="0.25" text-anchor="start" font-weight="normal" textLength="10" lengthAdjust="spacingAndGlyphs">18</text>
<text x="401.9" y="489.1" font-size="9.8" fill="#1e222d" text-anchor="start" font-weight="bold" textLength="15.4" lengthAdjust="spacingAndGlyphs">Oct</text>
<text x="483.7" y="489.1" font-size="10.4" fill="#2a2e39" stroke="#2a2e39" stroke-width="0.25" text-anchor="start" font-weight="normal" textLength="10.2" lengthAdjust="spacingAndGlyphs">16</text>
<text x="575.2" y="489.1" font-size="9.8" fill="#1e222d" text-anchor="start" font-weight="bold" textLength="16.8" lengthAdjust="spacingAndGlyphs">Nov</text>
<text x="649.2" y="489.1" font-size="10.4" fill="#2a2e39" stroke="#2a2e39" stroke-width="0.25" text-anchor="start" font-weight="normal" textLength="10" lengthAdjust="spacingAndGlyphs">14</text>
<text x="736.1" y="489.1" font-size="9.8" fill="#1e222d" text-anchor="start" font-weight="bold" textLength="17.3" lengthAdjust="spacingAndGlyphs">Dec</text>
<text x="806.0" y="489.1" font-size="10.4" fill="#2a2e39" stroke="#2a2e39" stroke-width="0.25" text-anchor="start" font-weight="normal" textLength="9.6" lengthAdjust="spacingAndGlyphs">11</text>
<text x="4.6" y="11.9" font-size="10.0" fill="#2a2e39" stroke="#2a2e39" stroke-width="0.08" text-anchor="start" font-weight="normal" textLength="164.6" lengthAdjust="spacingAndGlyphs">Nasdaq Composite Index, 4h, NASDAQ</text>
<text x="175.9" y="11.9" font-size="10.1" fill="#2a2e39" stroke="#2a2e39" stroke-width="0.08" text-anchor="start" font-weight="normal" textLength="6.3" lengthAdjust="spacingAndGlyphs">O</text>
<text x="183" y="11.9" font-size="10.6" fill="#089981" stroke="#089981" stroke-width="0.08" text-anchor="start" font-weight="normal" textLength="38.0" lengthAdjust="spacingAndGlyphs">14144.66</text>
<text x="228.5" y="11.9" font-size="10.1" fill="#2a2e39" stroke="#2a2e39" stroke-width="0.08" text-anchor="start" font-weight="normal" textLength="5.8" lengthAdjust="spacingAndGlyphs">H</text>
<text x="235.4" y="11.9" font-size="10.6" fill="#089981" stroke="#089981" stroke-width="0.08" text-anchor="start" font-weight="normal" textLength="37.5" lengthAdjust="spacingAndGlyphs">14197.52</text>
<text x="280.2" y="11.9" font-size="10.1" fill="#2a2e39" stroke="#2a2e39" stroke-width="0.08" text-anchor="start" font-weight="normal" textLength="4.2" lengthAdjust="spacingAndGlyphs">L</text>
<text x="285.2" y="11.9" font-size="10.6" fill="#089981" stroke="#089981" stroke-width="0.08" text-anchor="start" font-weight="normal" textLength="38.0" lengthAdjust="spacingAndGlyphs">14121.16</text>
<text x="330.2" y="11.9" font-size="10.1" fill="#2a2e39" stroke="#2a2e39" stroke-width="0.08" text-anchor="start" font-weight="normal" textLength="5.0" lengthAdjust="spacingAndGlyphs">C</text>
<text x="335.9" y="11.9" font-size="10.6" fill="#089981" stroke="#089981" stroke-width="0.08" text-anchor="start" font-weight="normal" textLength="38.6" lengthAdjust="spacingAndGlyphs">14185.49</text>
<text x="381.9" y="11.9" font-size="10.6" fill="#089981" stroke="#089981" stroke-width="0.08" text-anchor="start" font-weight="normal" textLength="27.9" lengthAdjust="spacingAndGlyphs">+40.54</text>
<text x="414.2" y="11.9" font-size="10.6" fill="#089981" stroke="#089981" stroke-width="0.08" text-anchor="start" font-weight="normal" textLength="35.7" lengthAdjust="spacingAndGlyphs">(+0.29%)</text>
</svg>
</body></html>
